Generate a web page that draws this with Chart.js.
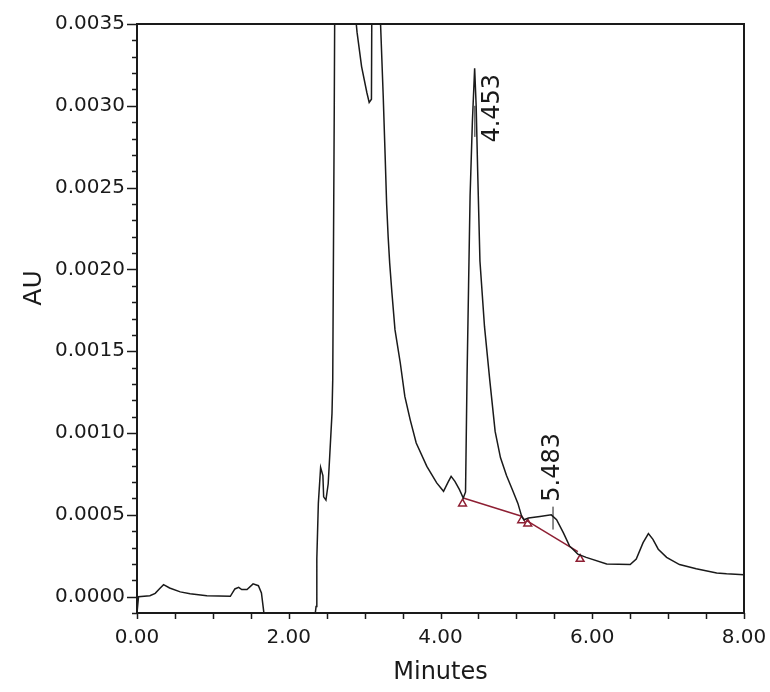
<!DOCTYPE html>
<html><head><meta charset="utf-8">
<script src="https://cdn.jsdelivr.net/npm/chart.js@4.4.1/dist/chart.umd.min.js"></script>
<style>html,body{margin:0;padding:0;background:#fff}#wrap{width:770px;height:692px}</style>
</head><body><div id="wrap"><canvas id="c" width="770" height="692"></canvas></div>
<script>
// ---- data ----
const traceTime = [0.00,0.02,0.17,0.24,0.30,0.35,0.43,0.57,0.70,0.92,1.23,1.29,1.34,1.38,1.45,1.53,1.60,1.64,1.67,1.69,2.33,2.35,2.36,2.37,2.39,2.42,2.45,2.46,2.49,2.52,2.54,2.57,2.58,2.60,2.61,2.75,2.88,2.89,2.90,2.92,2.96,3.03,3.06,3.09,3.10,3.15,3.20,3.21,3.245,3.27,3.29,3.31,3.33,3.36,3.40,3.47,3.53,3.60,3.68,3.82,3.95,4.04,4.10,4.14,4.19,4.25,4.30,4.33,4.35,4.37,4.39,4.42,4.45,4.47,4.49,4.52,4.58,4.65,4.72,4.79,4.87,4.95,5.02,5.07,5.10,5.16,5.31,5.46,5.53,5.62,5.70,5.81,5.92,6.19,6.50,6.58,6.67,6.74,6.80,6.87,6.98,7.15,7.37,7.64,7.77,8.00];
const traceAU = [-0.00010,0.000000,0.000006,0.000020,0.000050,0.000073,0.000053,0.000029,0.000018,0.000006,0.000002,0.000047,0.000057,0.000043,0.000043,0.000078,0.000067,0.000023,-0.00009,-0.00025,-0.00025,-0.00010,-0.00006,0.00023,0.00057,0.00079,0.00074,0.00061,0.00059,0.00069,0.00086,0.00112,0.00133,0.00300,0.00400,0.00600,0.00400,0.00350,0.00345,0.00338,0.00324,0.00308,0.00302,0.00304,0.00420,0.00500,0.00380,0.00350,0.00306,0.00270,0.00240,0.00220,0.00204,0.001856,0.001632,0.001428,0.001224,0.001082,0.000939,0.000796,0.000695,0.000644,0.000700,0.000735,0.000705,0.000654,0.000603,0.00064,0.00135,0.00190,0.00245,0.00290,0.00323,0.00300,0.00260,0.00205,0.00165,0.00132,0.00101,0.00085,0.00074,0.00065,0.00057,0.00049,0.00047,0.00048,0.00049,0.00050,0.00047,0.00039,0.00031,0.00026,0.00024,0.00020,0.000196,0.00023,0.00033,0.000385,0.00035,0.00029,0.00024,0.000196,0.00017,0.000145,0.00014,0.000134];
const baselineATime = [4.30, 5.07];
const baselineAAU = [0.000603, 0.000491];
const baselineBTime = [5.13, 5.81];
const baselineBAU = [0.000466, 0.000275];
const markerTime = [4.29, 5.07, 5.15, 5.84];
const markerAU = [0.000568, 0.000466, 0.000446, 0.000230];
const peakLabels = ['4.453', '5.483'];
const peakTimes = [4.453, 5.483];
const xTickLabels = ['0.00','2.00','4.00','6.00','8.00'];
const yTickLabels = ['0.0000','0.0005','0.0010','0.0015','0.0020','0.0025','0.0030','0.0035'];
const xTitle = 'Minutes';
const yTitle = 'AU';

const toXY = (xs, ys) => xs.map((x, i) => ({x: x, y: ys[i]}));
const INK = '#1a1a1a';
const RED = '#8e1f33';
const FONT = "'DejaVu Sans', sans-serif";

const framePlugin = {
  id: 'frame',
  afterDraw(chart) {
    const {ctx, chartArea: a, scales} = chart;
    ctx.save();
    ctx.strokeStyle = INK;
    // tick marks
    ctx.lineWidth = 1.5;
    scales.x.ticks.forEach(t => {
      const px = Math.round(scales.x.getPixelForValue(t.value)) + 0.5;
      ctx.beginPath(); ctx.moveTo(px, a.bottom); ctx.lineTo(px, a.bottom + 6); ctx.stroke();
    });
    scales.y.ticks.forEach(t => {
      const r = Math.round(t.value * 10000);
      const len = (r % 5 === 0) ? 10 : 5;
      const py = Math.round(scales.y.getPixelForValue(t.value)) + 0.5;
      ctx.beginPath(); ctx.moveTo(a.left, py); ctx.lineTo(a.left - len, py); ctx.stroke();
    });
    // box
    ctx.lineWidth = 2;
    ctx.beginPath();
    ctx.moveTo(a.left, a.bottom); ctx.lineTo(a.left, a.top); ctx.lineTo(a.right, a.top);
    ctx.lineTo(a.right, a.bottom); ctx.lineTo(a.left, a.bottom);
    ctx.stroke();
    // y title
    ctx.fillStyle = INK;
    ctx.font = "25px " + FONT;
    ctx.textAlign = 'center';
    ctx.textBaseline = 'middle';
    ctx.translate(a.left - 103, a.top + 264);
    ctx.rotate(-Math.PI / 2);
    ctx.fillText(yTitle, 0, 0);
    ctx.restore();

    // peak annotations
    const ann = chart.options.plugins.frame.annotations;
    ctx.save();
    ctx.fillStyle = INK; ctx.strokeStyle = INK; ctx.lineWidth = 1;
    ctx.font = "24px " + FONT;
    ann.forEach((p, i) => {
      const px = scales.x.getPixelForValue(peakTimes[i]);
      ctx.beginPath();
      ctx.moveTo(px, scales.y.getPixelForValue(p.markTop));
      ctx.lineTo(px, scales.y.getPixelForValue(p.markBottom));
      ctx.stroke();
      ctx.save();
      ctx.translate(px + p.dx, scales.y.getPixelForValue(p.textStart));
      ctx.rotate(-Math.PI / 2);
      ctx.textAlign = 'left'; ctx.textBaseline = 'middle';
      ctx.fillText(peakLabels[i], 0, 0);
      ctx.restore();
    });
    ctx.restore();
  }
};

new Chart(document.getElementById('c'), {
  type: 'line',
  data: {
    datasets: [
      {data: toXY(traceTime, traceAU), borderColor: INK, borderWidth: 1.5, pointRadius: 0, tension: 0, fill: false},
      {data: toXY(baselineATime, baselineAAU), borderColor: RED, borderWidth: 1.5, pointRadius: 0, tension: 0},
      {data: toXY(baselineBTime, baselineBAU), borderColor: RED, borderWidth: 1.5, pointRadius: 0, tension: 0},
      {data: toXY(markerTime, markerAU), showLine: false, pointStyle: 'triangle', pointRadius: 4.5,
       pointBorderColor: RED, pointBackgroundColor: '#fff', pointBorderWidth: 1.5}
    ]
  },
  plugins: [framePlugin],
  options: {
    responsive: false,
    animation: false,
    devicePixelRatio: 1,
    layout: {padding: {top: 24, right: 26, left: 0, bottom: 0}},
    plugins: {
      legend: {display: false},
      tooltip: {enabled: false},
      frame: {annotations: [
        {markTop: 0.00300, markBottom: 0.00281, textStart: 0.002775, dx: 18},
        {markTop: 0.00055, markBottom: 0.00041, textStart: 0.00058, dx: 0}
      ]}
    },
    scales: {
      x: {
        type: 'linear', min: 0, max: 8,
        afterFit: s => { s.height = 79; s.paddingLeft = 0; s.paddingRight = 0; },
        grid: {display: false, drawTicks: false},
        border: {display: false},
        ticks: {
          stepSize: 0.5, autoSkip: false, maxRotation: 0, padding: 13,
          color: INK, font: {family: FONT, size: 20},
          callback: v => { const r = Math.round(v * 2); return r % 4 === 0 ? xTickLabels[r / 4] : ''; }
        },
        title: {display: true, text: xTitle, color: INK, font: {family: FONT, size: 24}, padding: {top: 0, bottom: 5}}
      },
      y: {
        type: 'linear', min: -0.0001, max: 0.0035,
        afterFit: s => { s.width = 137; s.paddingTop = 0; s.paddingBottom = 0; },
        grid: {display: false, drawTicks: false},
        border: {display: false},
        ticks: {
          stepSize: 0.0001, autoSkip: false, maxTicksLimit: 100, padding: 12,
          color: INK, font: {family: FONT, size: 20},
          callback: v => { const r = Math.round(v * 10000); return (r % 5 === 0 && r >= 0) ? yTickLabels[r / 5] : ''; }
        },
        title: {display: false}
      }
    }
  }
});
</script>
</body></html>
